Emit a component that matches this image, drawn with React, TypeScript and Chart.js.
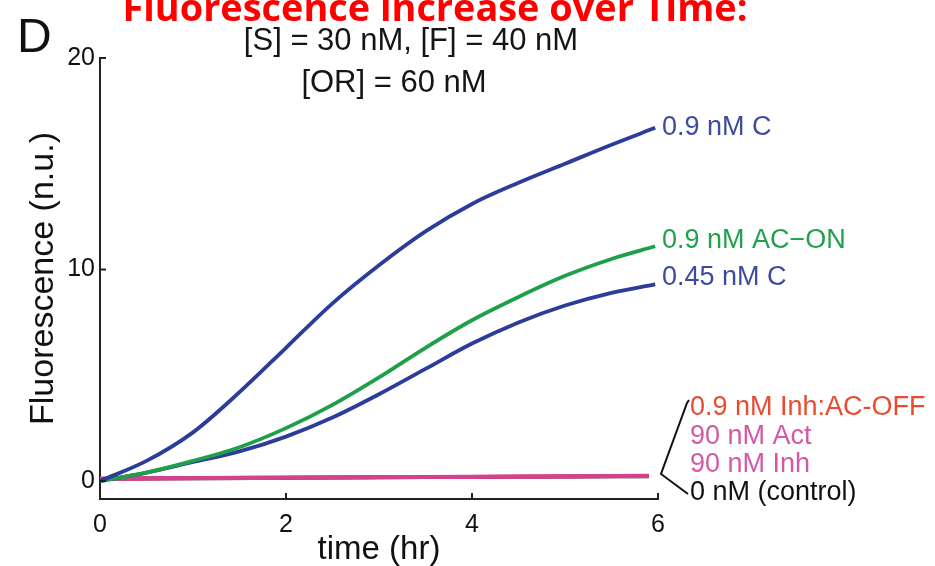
import { useEffect, useRef } from "react";
import { Chart, registerables } from "chart.js";

Chart.register(...registerables);

// ---- data ----
const timeCurve = [0, 0.5, 1, 1.5, 2, 2.5, 3, 3.5, 4, 4.5, 5, 5.5, 5.97];
const c09 = [0, 0.95, 2.3, 4.2, 6.3, 8.4, 10.2, 11.8, 13.1, 14.1, 15.0, 15.9, 16.7];
const acOn = [0, 0.4, 0.95, 1.6, 2.5, 3.6, 4.9, 6.3, 7.6, 8.7, 9.7, 10.5, 11.1];
const c045 = [0, 0.4, 0.9, 1.4, 2.1, 3.0, 4.1, 5.3, 6.5, 7.5, 8.3, 8.9, 9.3];

const timeFlat = [0, 1, 2, 3, 4, 5, 5.9];
const inhAcOff = [0.1, 0.14, 0.16, 0.18, 0.2, 0.22, 0.24];
const act90 = [0.12, 0.15, 0.17, 0.19, 0.21, 0.23, 0.25];
const inh90 = [0.1, 0.13, 0.15, 0.17, 0.19, 0.21, 0.23];
const control = [0.1, 0.13, 0.15, 0.17, 0.19, 0.21, 0.22];

const xTicks = [0, 2, 4, 6];
const yTicks = [0, 10, 20];

const seriesLabels = [
  "0.9 nM C",
  "0.9 nM AC\u2212ON",
  "0.45 nM C",
  "0.9 nM Inh:AC-OFF",
  "90 nM Act",
  "90 nM Inh",
  "0 nM (control)",
];
const titleText = "Fluorescence increase over Time:";
const panelLetter = "D";
const subtitle1 = "[S] = 30 nM, [F] = 40 nM";
const subtitle2 = "[OR] = 60 nM";
const xTitle = "time (hr)";
const yTitle = "Fluorescence (n.u.)";

const BLUE = "#2b3c9b";
const GREEN = "#1fa048";
const RED = "#e8482e";
const PINK = "#d4428f";
const BLACK = "#222222";

const LBL_BLUE = "#3d4b9c";
const LBL_GREEN = "#22a04c";
const LBL_RED = "#e94b30";
const LBL_PINK = "#d458a6";

const pts = (xs: number[], ys: number[]) => xs.map((x, i) => ({ x, y: ys[i] }));

const FONT = "'Liberation Sans', Arial, Helvetica, sans-serif";

const annotPlugin = {
  id: "annot",
  afterDraw(chart: any) {
    const { ctx, chartArea: a } = chart;
    const x = chart.scales.x;
    const y = chart.scales.y;
    ctx.save();

    // inward ticks
    ctx.strokeStyle = BLACK;
    ctx.lineWidth = 2;
    ctx.lineCap = "butt";
    xTicks.forEach((v) => {
      if (v === 0) return;
      const px = x.getPixelForValue(v);
      ctx.beginPath();
      ctx.moveTo(px, a.bottom);
      ctx.lineTo(px, a.bottom - 6);
      ctx.stroke();
    });
    yTicks.forEach((v) => {
      const py = y.getPixelForValue(v);
      ctx.beginPath();
      ctx.moveTo(a.left, py);
      ctx.lineTo(a.left + 6, py);
      ctx.stroke();
    });

    // title (bold red, partially cut at top)
    ctx.fillStyle = "#ff0000";
    ctx.textAlign = "center";
    ctx.textBaseline = "alphabetic";
    let size = 32;
    ctx.font = `bold ${size}px 'Open Sans', sans-serif`;
    const w = ctx.measureText(titleText).width;
    size = (size * 625) / w;
    ctx.font = `bold ${size}px 'Open Sans', sans-serif`;
    ctx.fillText(titleText, 435, 21);

    // panel letter
    ctx.fillStyle = "#111";
    ctx.textAlign = "left";
    ctx.font = `48px ${FONT}`;
    ctx.fillText(panelLetter, 17, 52);

    // subtitles
    ctx.textAlign = "center";
    ctx.font = `31px ${FONT}`;
    ctx.fillStyle = "#151515";
    ctx.fillText(subtitle1, 411, 50);
    ctx.fillText(subtitle2, 394, 92);

    // series labels
    ctx.textAlign = "left";
    ctx.textBaseline = "middle";
    ctx.font = `27px ${FONT}`;
    const lx = a.right + 4;
    ctx.fillStyle = LBL_BLUE;
    ctx.fillText(seriesLabels[0], lx, y.getPixelForValue(c09[c09.length - 1]));
    ctx.fillStyle = LBL_GREEN;
    ctx.fillText(seriesLabels[1], lx, y.getPixelForValue(acOn[acOn.length - 1]) - 6);
    ctx.fillStyle = LBL_BLUE;
    ctx.fillText(seriesLabels[2], lx, y.getPixelForValue(c045[c045.length - 1]) - 7);

    const gx = a.right + 32;
    ctx.fillStyle = LBL_RED;
    ctx.fillText(seriesLabels[3], gx, 408);
    ctx.fillStyle = LBL_PINK;
    ctx.fillText(seriesLabels[4], gx, 437);
    ctx.fillText(seriesLabels[5], gx, 465);
    ctx.fillStyle = "#111";
    ctx.fillText(seriesLabels[6], gx, 493);

    // bracket
    ctx.strokeStyle = "#111";
    ctx.lineWidth = 2;
    ctx.beginPath();
    ctx.moveTo(a.right + 31, 400);
    ctx.lineTo(a.right + 29, 403);
    ctx.lineTo(a.right + 3, 474);
    ctx.lineTo(a.right + 30, 494);
    ctx.stroke();

    ctx.restore();
  },
};

export default function App() {
  const ref = useRef<HTMLCanvasElement | null>(null);

  useEffect(() => {
    const canvas = ref.current;
    if (!canvas) return;
    const ds = (label: string, xs: number[], ys: number[], color: string, width = 3.8) => ({
      label,
      data: pts(xs, ys),
      borderColor: color,
      backgroundColor: color,
      borderWidth: width,
      pointRadius: 0,
      tension: 0.4,
      cubicInterpolationMode: "monotone" as const,
      fill: false,
    });
    // dataset 0 is drawn on top
    const chart = new Chart(canvas, {
      type: "line",
      data: {
        datasets: [
          ds(seriesLabels[0], timeCurve, c09, BLUE),
          ds(seriesLabels[1], timeCurve, acOn, GREEN),
          ds(seriesLabels[2], timeCurve, c045, BLUE),
          ds(seriesLabels[4], timeFlat, act90, PINK),
          ds(seriesLabels[5], timeFlat, inh90, PINK),
          ds(seriesLabels[3], timeFlat, inhAcOff, RED),
          ds(seriesLabels[6], timeFlat, control, BLACK),
        ],
      },
      options: {
        animation: false,
        responsive: false,
        devicePixelRatio: 1,
        layout: { padding: { top: 58, right: 277, left: 0, bottom: 0 } },
        plugins: {
          legend: { display: false },
          tooltip: { enabled: false },
          title: { display: false },
        },
        scales: {
          x: {
            type: "linear",
            min: 0,
            max: 6,
            afterBuildTicks: (s: any) => {
              s.ticks = xTicks.map((v) => ({ value: v }));
            },
            afterFit: (s: any) => {
              s.height = 67;
            },
            grid: { display: false, drawTicks: false },
            border: { display: true, color: BLACK, width: 2 },
            ticks: {
              padding: 11,
              color: "#111",
              font: { family: FONT, size: 25 },
              maxRotation: 0,
            },
            title: {
              display: true,
              text: xTitle,
              color: "#111",
              font: { family: FONT, size: 33, lineHeight: 1 },
              padding: { top: 0, bottom: 0 },
            },
          },
          y: {
            type: "linear",
            min: -0.85,
            max: 20,
            afterBuildTicks: (s: any) => {
              s.ticks = yTicks.map((v) => ({ value: v }));
            },
            afterFit: (s: any) => {
              s.width = 100;
            },
            grid: { display: false, drawTicks: false },
            border: { display: true, color: BLACK, width: 2 },
            ticks: {
              padding: 5,
              color: "#111",
              font: { family: FONT, size: 25 },
            },
            title: {
              display: true,
              text: yTitle,
              color: "#111",
              font: { family: FONT, size: 34, lineHeight: 1 },
              padding: { top: 27, bottom: 0 },
            },
          },
        },
      },
      plugins: [annotPlugin],
    });
    return () => chart.destroy();
  }, []);

  return (
    <div style={{ position: "fixed", left: 0, top: 0, width: 935, height: 566, background: "#fff" }}>
      <canvas ref={ref} width={935} height={566} style={{ display: "block" }} />
    </div>
  );
}
